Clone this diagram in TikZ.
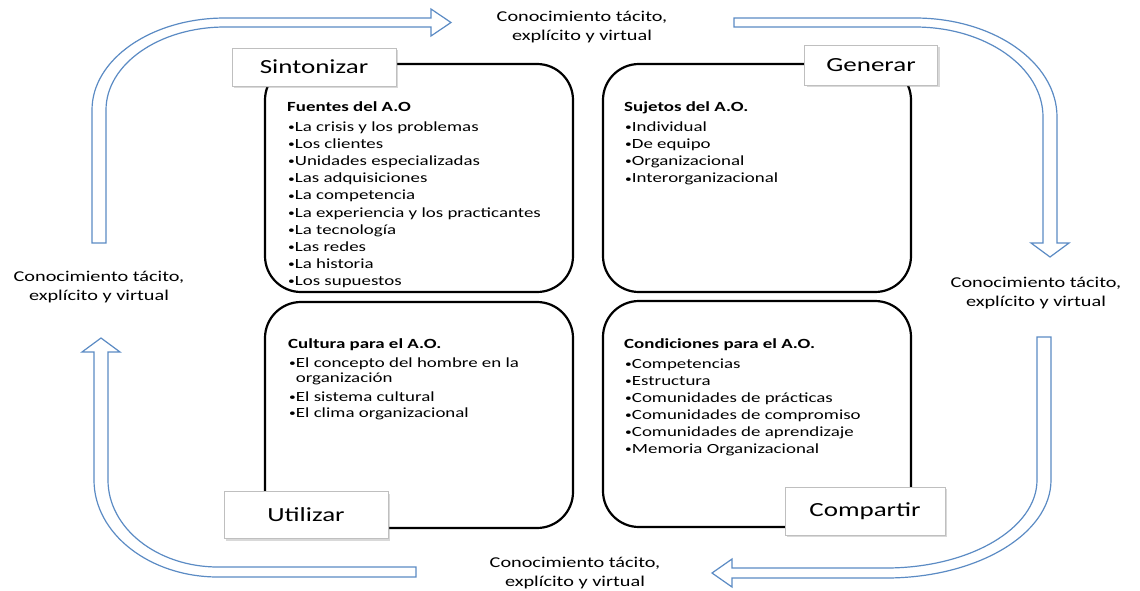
\documentclass[tikz,border=0pt]{standalone}
\usepackage{fontspec}
\setmainfont{Carlito}[FakeStretch=1.35]
\usetikzlibrary{positioning,shadows}
\definecolor{flowblue}{HTML}{5B8BC4}
\definecolor{framegray}{HTML}{BFBFBF}
\newcommand\itembul{\raisebox{0.8pt}{\fontsize{10}{10}\selectfont\textbullet}}

\begin{document}
\begin{tikzpicture}[x=1pt,y=-1pt,
  quadbox/.style={draw,line width=2.2pt,rounded corners=36pt,minimum width=308pt,minimum height=228pt},
  phasebox/.style={draw=framegray,fill=white,line width=0.8pt,font=\fontsize{20}{24}\selectfont,
    drop shadow={shadow xshift=2pt,shadow yshift=-2pt,opacity=0.3}},
  headtxt/.style={anchor=base west,inner sep=0pt,font=\fontsize{14}{17}\selectfont\bfseries},
  itemtxt/.style={anchor=base west,inner sep=0pt,font=\fontsize{14}{17}\selectfont},
  flowtxt/.style={align=center,inner sep=0pt,font=\fontsize{15}{18.5}\selectfont},
  flowarrow/.style={draw=flowblue,fill=white,line width=1.2pt,line join=miter}]
\useasboundingbox (0,0) rectangle (1140,590);

% cycle arrows
\draw[flowarrow] (92,243) -- (92,110) arc[start angle=180,end angle=270,x radius=133,y radius=92]
  -- (431,18) -- (431,9) -- (451,22.5) -- (431,36) -- (431,27) -- (225,27)
  arc[start angle=270,end angle=180,x radius=119,y radius=83] -- (106,243) -- cycle;
\draw[flowarrow] (734,18) -- (915,18) arc[start angle=270,end angle=360,x radius=142,y radius=99]
  -- (1057,243) -- (1069,243) -- (1050,257) -- (1031,243) -- (1043,243) -- (1043,117)
  arc[start angle=0,end angle=-90,x radius=128,y radius=90] -- (734,27) -- cycle;
\draw[flowarrow] (1037,337) -- (1051,337) -- (1051,480) arc[start angle=0,end angle=90,x radius=165,y radius=98]
  -- (732,578) -- (732,587) -- (712,573) -- (732,559) -- (732,568) -- (886,568)
  arc[start angle=90,end angle=0,x radius=151,y radius=88] -- cycle;
\draw[flowarrow] (416,567) -- (416,577) -- (218,577) arc[start angle=90,end angle=180,x radius=124,y radius=97]
  -- (94,352) -- (82,352) -- (101,338) -- (120,352) -- (108,352) -- (108,480)
  arc[start angle=180,end angle=90,x radius=110,y radius=87] -- cycle;

\node[flowtxt] (ktop) at (582,27) {Conocimiento tácito,\\explícito y virtual};
\node[flowtxt] (kright) at (1036,293) {Conocimiento tácito,\\explícito y virtual};
\node[flowtxt] (kbottom) at (575,573) {Conocimiento tácito,\\explícito y virtual};
\node[flowtxt] (kleft) at (99,287) {Conocimiento tácito,\\explícito y virtual};

% quadrants
\node[quadbox] (fuentes) at (419,178) {};
\node[quadbox] (sujetos) at (757,178) {};
\node[quadbox,minimum height=226pt] (cultura) at (419,415) {};
\node[quadbox,minimum height=226pt] (condiciones) at (757,414) {};

\node[headtxt] (fuentes-h) at (287,111.5) {Fuentes del A.O};
\foreach \t [count=\i] in {La crisis y los problemas,Los clientes,Unidades especializadas,
  Las adquisiciones,La competencia,La experiencia y los practicantes,La tecnología,
  Las redes,La historia,Los supuestos}
  \node[itemtxt] (fuentes-\i) at (288,114.4+17.1*\i) {\itembul\t};

\node[headtxt] (sujetos-h) at (624,111.5) {Sujetos del A.O.};
\foreach \t [count=\i] in {Individual,De equipo,Organizacional,Interorganizacional}
  \node[itemtxt] (sujetos-\i) at (625,114.4+17.1*\i) {\itembul\t};

\node[headtxt] (cultura-h) at (288,348.5) {Cultura para el A.O.};
\node[itemtxt] (cultura-1) at (289,367.5) {\itembul El concepto del hombre en la};
\node[itemtxt] (cultura-1b) at (289,382) {\phantom{\itembul}organización};
\node[itemtxt] (cultura-2) at (289,401) {\itembul El sistema cultural};
\node[itemtxt] (cultura-3) at (289,417.5) {\itembul El clima organizacional};

\node[headtxt] (condiciones-h) at (624,348.5) {Condiciones para el A.O.};
\foreach \t [count=\i] in {Competencias,Estructura,Comunidades de prácticas,
  Comunidades de compromiso,Comunidades de aprendizaje,Memoria Organizacional}
  \node[itemtxt] (condiciones-\i) at (625,351.3+17*\i) {\itembul\t};

% phase labels
\node[phasebox,minimum width=164pt,minimum height=38pt] (sintonizar) at (314,67) {Sintonizar};
\node[phasebox,minimum width=133pt,minimum height=40pt] (generar) at (871,65) {Generar};
\node[phasebox,minimum width=164pt,minimum height=47pt] (utilizar) at (306,515) {Utilizar};
\node[phasebox,minimum width=160pt,minimum height=48pt] (compartir) at (865,511) {Compartir};
\end{tikzpicture}
\end{document}
